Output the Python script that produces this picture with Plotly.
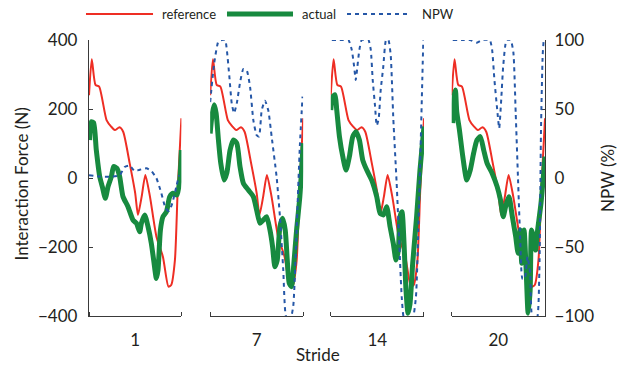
import plotly.graph_objects as go

# ---------------- data ----------------
stride_labels = ["1", "7", "14", "20"]
legend_labels = ["reference", "actual", "NPW"]

reference_phase = [0.0, 0.03, 0.07, 0.11, 0.19, 0.24, 0.28, 0.33, 0.37, 0.44, 0.50, 0.53,
                   0.57, 0.61, 0.66, 0.73, 0.80, 0.86, 0.89, 0.93, 0.96, 1.0]
reference_force = [240, 344, 270, 265, 168, 149, 139, 147, 134, 43, -44, -107,
                   -54, 9, -54, -170, -228, -315, -310, -238, -35, 173]

actual_phase_1 = [0.007, 0.025, 0.05, 0.079, 0.116, 0.144, 0.177, 0.206, 0.242, 0.267, 0.303, 0.332,
                  0.368, 0.422, 0.477, 0.513, 0.549, 0.567, 0.603, 0.639, 0.675, 0.70, 0.729, 0.747,
                  0.773, 0.801, 0.838, 0.874, 0.91, 0.953, 0.982, 1.0]
actual_force_1 = [110, 163, 160, 81, 4, -25, -59, -25, 4, 33, 28, 4,
                  -54, -83, -122, -131, -156, -131, -107, -141, -190, -238, -291, -267,
                  -151, -112, -98, -54, -44, -49, -6, 81]

actual_phase_7 = [0.0, 0.018, 0.043, 0.064, 0.089, 0.114, 0.15, 0.179, 0.214, 0.25, 0.286, 0.321,
                  0.357, 0.411, 0.464, 0.5, 0.536, 0.571, 0.607, 0.643, 0.671, 0.696, 0.721, 0.75,
                  0.779, 0.807, 0.829, 0.85, 0.875, 0.9, 0.929, 0.964, 1.0]
actual_force_7 = [129, 178, 212, 188, 110, 43, -6, 14, 81, 110, 101, 33,
                  -15, -35, -54, -93, -131, -122, -112, -151, -199, -257, -238, -141,
                  -117, -151, -238, -305, -315, -247, -151, -54, 101]

actual_phase_14 = [0.0, 0.021, 0.046, 0.064, 0.093, 0.129, 0.164, 0.2, 0.236, 0.271, 0.307, 0.343,
                   0.386, 0.439, 0.493, 0.529, 0.564, 0.6, 0.636, 0.671, 0.7, 0.725, 0.743, 0.764,
                   0.786, 0.807, 0.829, 0.85, 0.879, 0.921, 0.957, 1.0]
actual_force_14 = [197, 236, 241, 197, 120, 62, 23, 62, 120, 134, 110, 52,
                   23, -6, -54, -102, -107, -83, -141, -190, -238, -209, -112, -98,
                   -190, -325, -392, -365, -247, -112, 23, 149]

actual_phase_20 = [0.011, 0.025, 0.04, 0.054, 0.083, 0.119, 0.162, 0.199, 0.235, 0.271, 0.307, 0.343,
                   0.379, 0.433, 0.487, 0.523, 0.552, 0.578, 0.614, 0.65, 0.686, 0.711, 0.733, 0.751,
                   0.776, 0.798, 0.819, 0.841, 0.856, 0.877, 0.899, 0.921, 0.957, 1.0]
actual_force_20 = [159, 236, 255, 192, 139, 62, -6, 23, 72, 110, 120, 81,
                   43, 14, -25, -64, -112, -83, -54, -112, -170, -218, -151, -247,
                   -151, -267, -392, -325, -151, -170, -209, -151, -73, 62]

npw_phase_1 = [0.0, 0.116, 0.224, 0.332, 0.386, 0.44, 0.495, 0.549, 0.621, 0.675, 0.729, 0.783,
               0.83, 0.866, 0.903, 0.946, 0.975]
npw_value_1 = [2, 1, 1, 2, 8, 9, 5, 6, 7, 5, 0, -11, -22, -24, -18, -6, 2]

npw_phase_7 = [0.0, 0.043, 0.089, 0.125, 0.161, 0.179, 0.207, 0.232, 0.257, 0.286, 0.321, 0.357,
               0.393, 0.429, 0.464, 0.5, 0.525, 0.554, 0.589, 0.625, 0.661, 0.714, 0.75, 0.786,
               0.814, 0.857, 0.893, 0.929, 0.964, 0.993]
npw_value_7 = [55, 83, 99, 100, 100, 93, 73, 54, 47, 54, 69, 79,
               78, 66, 42, 31, 30, 49, 56, 49, 30, 1, -28, -67,
               -100, -104, -93, -38, 23, 59]

npw_phase_14 = [0.011, 0.064, 0.136, 0.189, 0.225, 0.25, 0.268, 0.286, 0.307, 0.332, 0.368, 0.404,
                0.429, 0.45, 0.475, 0.493, 0.514, 0.536, 0.564, 0.593, 0.618, 0.643, 0.671, 0.707,
                0.736, 0.761, 0.786, 0.832, 0.879, 0.914, 0.939, 0.964, 0.982, 0.993]
npw_value_14 = [100, 100, 100, 100, 93, 81, 71, 81, 93, 100, 100, 100,
                93, 71, 52, 38, 43, 64, 81, 100, 100, 89, 43, -4,
                -49, -86, -102, -104, -102, -86, -38, 23, 71, 100]

npw_phase_20 = [0.011, 0.126, 0.199, 0.264, 0.325, 0.408, 0.433, 0.458, 0.487, 0.509, 0.531, 0.552,
                0.588, 0.632, 0.661, 0.686, 0.711, 0.733, 0.758, 0.783, 0.812, 0.841, 0.866, 0.913,
                0.939, 0.957, 0.975, 0.986]
npw_value_20 = [100, 100, 100, 98, 100, 100, 93, 71, 50, 36, 57, 81,
                100, 100, 91, 47, -1, -42, -73, -73, -57, -69, -102, -102,
                -69, 35, 89, 100]

actual_phases = [actual_phase_1, actual_phase_7, actual_phase_14, actual_phase_20]
actual_forces = [actual_force_1, actual_force_7, actual_force_14, actual_force_20]
npw_phases = [npw_phase_1, npw_phase_7, npw_phase_14, npw_phase_20]
npw_values = [npw_value_1, npw_value_7, npw_value_14, npw_value_20]

# ---------------- styling ----------------
RED = "#ee2e24"
GREEN = "#178a3f"
BLUE = "#2557a7"
AXIS = "#3a3a3a"
TXT = "#231f20"
FONT = "Lato"
DASH = "4px,4px"

domains = [[0.0, 0.2026], [0.2657, 0.4697], [0.5302, 0.7346], [0.7954, 1.0]]

fig = go.Figure()

for i in range(4):
    xa = "x" if i == 0 else f"x{i + 1}"
    fig.add_trace(go.Scatter(
        x=reference_phase, y=reference_force, xaxis=xa, yaxis="y",
        mode="lines", line=dict(color=RED, width=2, shape="spline", smoothing=0.6),
        name="reference", showlegend=False))
    fig.add_trace(go.Scatter(
        x=actual_phases[i], y=actual_forces[i], xaxis=xa, yaxis="y",
        mode="lines", line=dict(color=GREEN, width=5, shape="spline", smoothing=0.6),
        name="actual", showlegend=False))
    fig.add_trace(go.Scatter(
        x=npw_phases[i], y=npw_values[i], xaxis=xa, yaxis="y2",
        mode="lines", line=dict(color=BLUE, width=2, dash=DASH, shape="spline", smoothing=0.5),
        name="NPW", showlegend=False))

layout = dict(
    width=625, height=365,
    margin=dict(l=89, r=80, t=40, b=49, autoexpand=False),
    paper_bgcolor="white", plot_bgcolor="white",
    font=dict(family=FONT, size=17, color=TXT),
    showlegend=False,
)

for i in range(4):
    key = "xaxis" if i == 0 else f"xaxis{i + 1}"
    layout[key] = dict(
        domain=domains[i], range=[0, 1], anchor="y",
        showline=True, linecolor=AXIS, linewidth=1.3,
        showgrid=False, zeroline=False,
        tickmode="array", tickvals=[0.5], ticktext=[stride_labels[i]],
        ticks="", ticklabelstandoff=8,
        minor=dict(tickmode="array", tickvals=[0, 1], ticks="inside", ticklen=4,
                   tickcolor=AXIS, tickwidth=1.3, showgrid=False),
        fixedrange=True, automargin=False,
    )

layout["yaxis"] = dict(
    range=[-400, 400], anchor="x", domain=[0, 1],
    showline=True, linecolor=AXIS, linewidth=1.3,
    showgrid=False, zeroline=False,
    tickmode="array", tickvals=[-400, -200, 0, 200, 400],
    ticktext=["\u2212400", "\u2212200", "0", "200", "400"],
    ticks="inside", ticklen=4, tickcolor=AXIS, tickwidth=1.3,
    ticklabelstandoff=7, automargin=False, fixedrange=True,
)
layout["yaxis2"] = dict(
    range=[-100, 100], anchor="x4", overlaying="y", side="right",
    showline=True, linecolor=AXIS, linewidth=1.3,
    showgrid=False, zeroline=False,
    tickmode="array", tickvals=[-100, -50, 0, 50, 100],
    ticktext=["\u2212100", "\u221250", "0", "50", "100"],
    ticks="inside", ticklen=4, tickcolor=AXIS, tickwidth=1.3,
    ticklabelstandoff=5, automargin=False, fixedrange=True,
)

# manual legend (long line samples as in the reference)
leg_y = 1.0942
leg_lines = [(-0.0066, 0.1404, RED, 2, "solid"),
             (0.3026, 0.4474, GREEN, 5, "solid"),
             (0.5658, 0.7039, BLUE, 2, DASH)]
leg_text_x = [0.1557, 0.4627, 0.7259]
shapes = []
annotations = []
for (x0, x1, c, w, d), tx, lab in zip(leg_lines, leg_text_x, legend_labels):
    shapes.append(dict(type="line", xref="paper", yref="paper", x0=x0, x1=x1, y0=leg_y, y1=leg_y,
                       line=dict(color=c, width=w, dash=d)))
    annotations.append(dict(text=lab, xref="paper", yref="paper", x=tx, y=leg_y,
                            xanchor="left", yanchor="middle", showarrow=False,
                            font=dict(size=13, color=TXT)))

annotations += [
    dict(text="Stride", xref="paper", yref="paper", x=0.502, y=-0.141,
         xanchor="center", yanchor="middle", showarrow=False, font=dict(size=17)),
    dict(text="Interaction Force (N)", xref="paper", yref="paper", x=-0.147, y=0.48,
         xanchor="center", yanchor="middle", textangle=-90, showarrow=False, font=dict(size=17)),
    dict(text="NPW (%)", xref="paper", yref="paper", x=1.136, y=0.5,
         xanchor="center", yanchor="middle", textangle=-90, showarrow=False, font=dict(size=17)),
]
layout["shapes"] = shapes
layout["annotations"] = annotations

fig.update_layout(**layout)
# remove the default 8px page margin so the figure fills the window exactly
fig.write_html("out.html", config={"displayModeBar": False},
               post_script="document.body.style.margin='0';")
